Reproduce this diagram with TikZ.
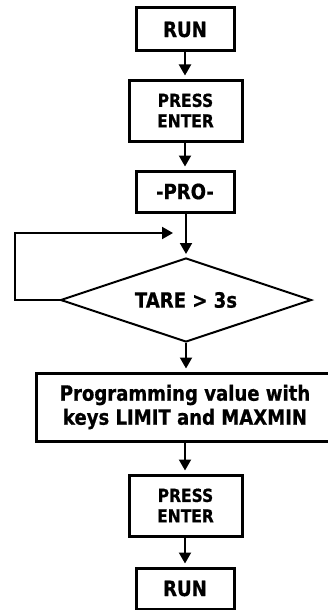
\documentclass[tikz,border=0pt]{standalone}
\usepackage{fontspec}
\setmainfont{DejaVu Sans}[FakeStretch=0.86, BoldFeatures={FakeBold=0.7}]
\usepackage{tikz}
\usetikzlibrary{arrows.meta,shapes.geometric}

\tikzset{
  stepbox/.style={draw=black, line width=3pt, inner sep=0pt, align=center,
    font=\bfseries\fontsize{18}{20.5}\selectfont},
  testdiamond/.style={draw=black, line width=2pt, shape=diamond, aspect=3,
    inner sep=0pt, minimum width=251pt, minimum height=84pt,
    font=\bfseries\fontsize{21}{24}\selectfont},
  flow/.style={draw=black, line width=2pt, -{Triangle[length=11pt,width=12pt]},
    shorten >=3pt}
}

\begin{document}
\begin{tikzpicture}[x=1pt,y=1pt]
  \useasboundingbox (0,0) rectangle (327,-610);

  \node[stepbox, minimum width=98pt, minimum height=43pt,
    font=\bfseries\fontsize{21}{24}\selectfont] (run) at (185,-29.5) {RUN};
  \node[stepbox, minimum width=113pt, minimum height=61pt] (enter) at (185.5,-110.5)
    {PRESS\\ENTER};
  \node[stepbox, minimum width=98pt, minimum height=41pt,
    font=\bfseries\fontsize{21}{24}\selectfont] (pro) at (185,-191.5) {-PRO-};
  \node[testdiamond] (tare) at (186,-300) {TARE > 3s};
  \node[stepbox, minimum width=298pt, minimum height=68pt,
    font=\bfseries\fontsize{21}{24}\selectfont] (prog) at (185,-407)
    {Programming value with\\keys LIMIT and MAXMIN};
  \node[stepbox, minimum width=113pt, minimum height=61pt] (enter2) at (185.5,-505.5)
    {PRESS\\ENTER};
  \node[stepbox, minimum width=98pt, minimum height=41pt,
    font=\bfseries\fontsize{21}{24}\selectfont] (run2) at (185,-588.5) {RUN};

  \draw[flow] (run.south) -- (enter.north -| run.south);
  \draw[flow] (enter.south -| run.south) -- (pro.north);
  \draw[flow] (pro.south -| tare.north) -- (tare.north);
  \coordinate (back) at (173,-233);
  \draw[flow, shorten >=0pt] (tare.west) -- ++(-45,0) |- (back);
  \draw[flow] (tare.south) -- (prog.north -| tare.south);
  \draw[flow] (prog.south -| run2.north) -- (enter2.north -| run2.north);
  \draw[flow] (enter2.south -| run2.north) -- (run2.north);
\end{tikzpicture}
\end{document}
